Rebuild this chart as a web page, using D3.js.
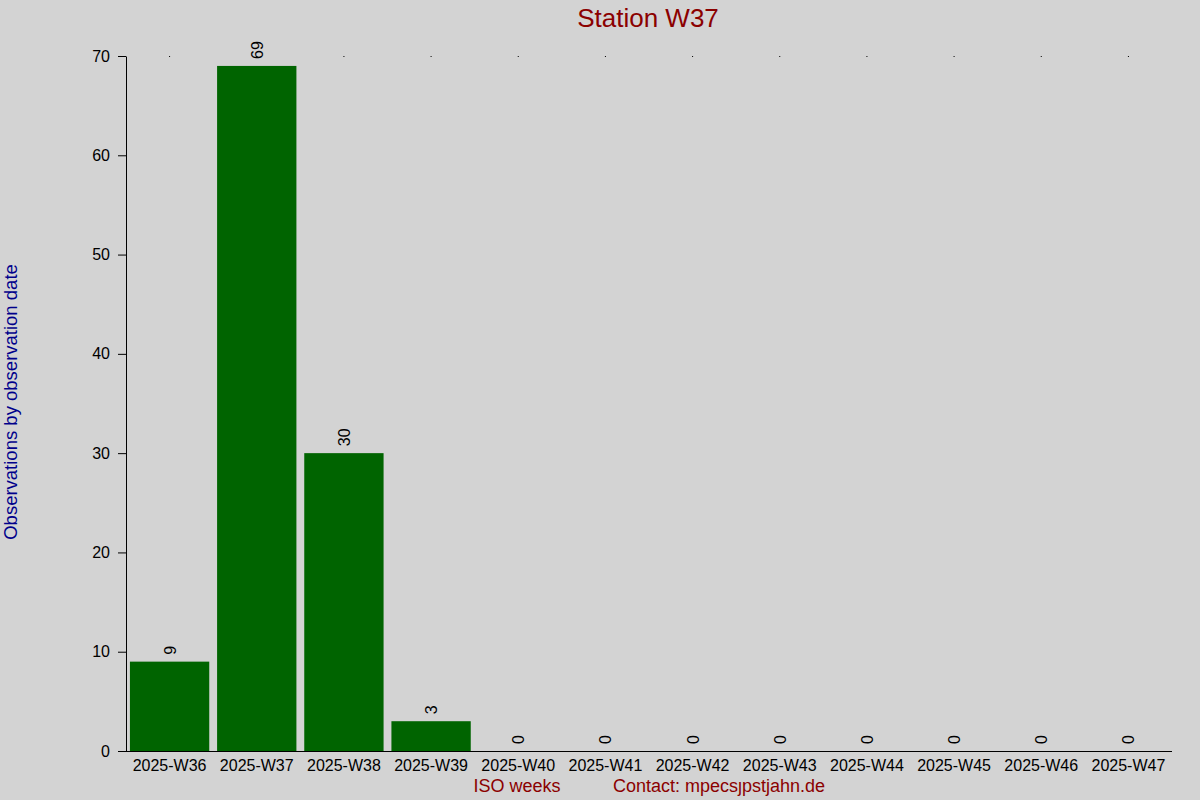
<!DOCTYPE html>
<html>
<head>
<meta charset="utf-8">
<script src="https://cdn.jsdelivr.net/npm/d3@7"></script>
<style>
  html, body { margin: 0; padding: 0; background: #d3d3d3; }
  svg { display: block; font-family: "Liberation Sans", Arial, sans-serif; }
</style>
</head>
<body>
<div id="chart"></div>
<script>
const weeks = ["2025-W36", "2025-W37", "2025-W38", "2025-W39", "2025-W40", "2025-W41",
  "2025-W42", "2025-W43", "2025-W44", "2025-W45", "2025-W46", "2025-W47"];
const counts = [9, 69, 30, 3, 0, 0, 0, 0, 0, 0, 0, 0];
const yTicks = [0, 10, 20, 30, 40, 50, 60, 70];

const width = 1200;
const height = 800;
const margin = { top: 56, right: 28, bottom: 49, left: 126 };

const svg = d3.select("#chart")
  .append("svg")
  .attr("width", width)
  .attr("height", height);

svg.append("rect")
  .attr("width", width)
  .attr("height", height)
  .attr("fill", "#d3d3d3");

const x = d3.scaleBand()
  .domain(weeks)
  .range([margin.left, width - margin.right])
  .paddingInner(0.09)
  .paddingOuter(0.045);

const y = d3.scaleLinear()
  .domain([0, 70])
  .range([height - margin.bottom, margin.top]);

// bars
svg.selectAll(".bar")
  .data(weeks)
  .enter()
  .append("rect")
  .attr("class", "bar")
  .attr("x", d => x(d))
  .attr("y", (d, i) => y(counts[i]))
  .attr("width", x.bandwidth())
  .attr("height", (d, i) => y(0) - y(counts[i]))
  .attr("fill", "#006400");

// little top markers at each category
svg.selectAll(".topdot")
  .data(weeks)
  .enter()
  .append("rect")
  .attr("class", "topdot")
  .attr("x", d => x(d) + x.bandwidth() / 2 - 0.5)
  .attr("y", y(70))
  .attr("width", 1)
  .attr("height", 1)
  .attr("fill", "#000");

// value labels
svg.selectAll(".val")
  .data(weeks)
  .enter()
  .append("text")
  .attr("class", "val")
  .attr("transform", (d, i) => `translate(${x(d) + x.bandwidth() / 2 + 6},${y(counts[i]) - 7}) rotate(-90)`)
  .attr("text-anchor", "start")
  .style("font-size", "16px")
  .attr("fill", "#000")
  .text((d, i) => counts[i]);

// y axis
const yAxis = svg.append("g")
  .attr("transform", `translate(${margin.left},0)`)
  .call(d3.axisLeft(y).tickValues(yTicks).tickSize(8).tickSizeOuter(0));
yAxis.select(".domain").attr("stroke", "#000");
yAxis.selectAll("line").attr("stroke", "#000");
yAxis.selectAll("text")
  .attr("x", -16)
  .style("font-size", "16px")
  .style("font-family", "'Liberation Sans', Arial, sans-serif")
  .attr("fill", "#000");

// x axis
const xAxis = svg.append("g")
  .attr("transform", `translate(0,${y(0)})`)
  .call(d3.axisBottom(x).tickSize(0).tickPadding(6));
xAxis.select(".domain")
  .attr("d", `M${margin.left - 8},0.5H${width - margin.right}`)
  .attr("stroke", "#000");
xAxis.selectAll("text")
  .attr("dy", "0.9em")
  .style("font-size", "16px")
  .style("font-family", "'Liberation Sans', Arial, sans-serif")
  .attr("fill", "#000");

// title
svg.append("text")
  .attr("x", 648)
  .attr("y", 27)
  .attr("text-anchor", "middle")
  .style("font-size", "26px")
  .attr("fill", "#8b0000")
  .text("Station W37");

// y label
svg.append("text")
  .attr("transform", `translate(17,402) rotate(-90)`)
  .attr("text-anchor", "middle")
  .style("font-size", "18.5px")
  .attr("fill", "#00008b")
  .text("Observations by observation date");

// x labels
svg.append("text")
  .attr("x", 517)
  .attr("y", 792)
  .attr("text-anchor", "middle")
  .style("font-size", "18px")
  .attr("fill", "#8b0000")
  .text("ISO weeks");

svg.append("text")
  .attr("x", 613)
  .attr("y", 792)
  .attr("text-anchor", "start")
  .style("font-size", "18px")
  .attr("fill", "#8b0000")
  .text("Contact: mpecsȷpstjahn.de");
</script>
</body>
</html>
